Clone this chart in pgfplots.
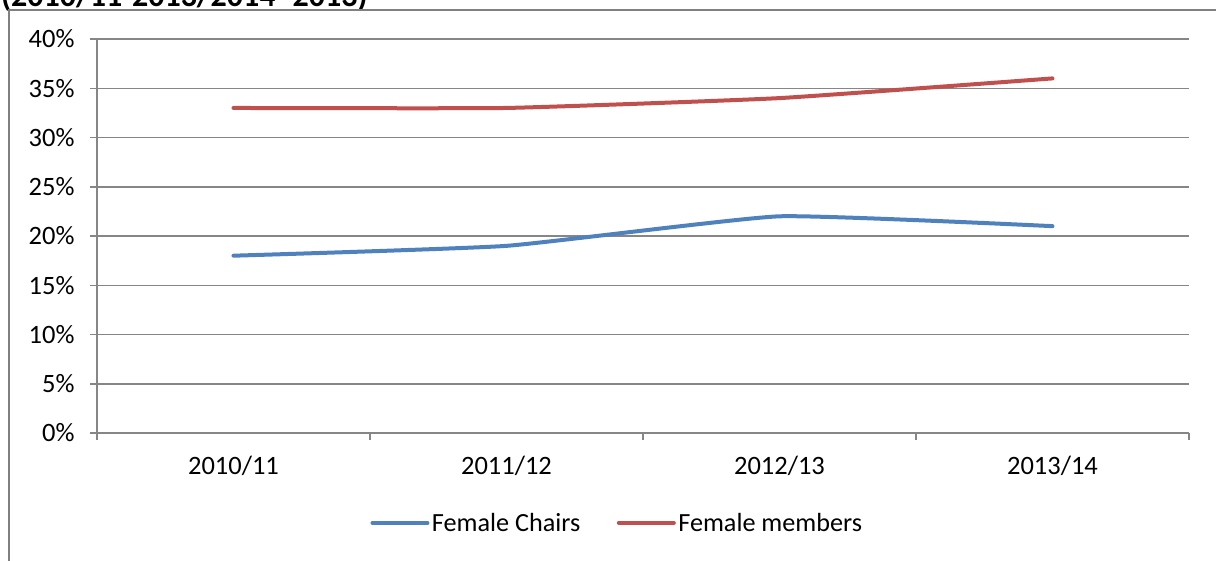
\documentclass[border=0pt]{standalone}
\usepackage{pgfplots}
\pgfplotsset{compat=1.18}
\usepackage{fontspec}
\setmainfont{Carlito}
\definecolor{cblue}{RGB}{79,129,189}
\definecolor{cred}{RGB}{192,80,77}
\definecolor{cgrid}{RGB}{134,134,134}
\definecolor{cframe}{RGB}{128,128,128}
\begin{document}
\begin{tikzpicture}
\path[use as bounding box, clip] (0,0) rectangle (1216pt,-561pt);
\node[anchor=base west, inner sep=0pt, font=\bfseries\fontsize{32}{36}\selectfont] at (1pt,-7pt) {(2010/11-2013/2014- 2013)};
\draw[cframe, line width=2pt] (9pt,-700pt) -- (9pt,-10pt) -- (1300pt,-10pt);
\begin{axis}[
  at={(97pt,-433pt)}, anchor=south west,
  scale only axis, width=1092pt, height=394pt,
  xmin=-0.5, xmax=3.5, ymin=0, ymax=40,
  axis lines=left, axis line style={-, draw=cgrid, line width=1.5pt},
  xtick={-0.5,0.5,1.5,2.5,3.5}, xticklabels={},
  extra x ticks={0,1,2,3},
  extra x tick labels={2010/11,2011/12,2012/13,2013/14},
  extra x tick style={major tick length=0pt, xticklabel style={yshift=-20pt}},
  ytick={0,5,...,40},
  yticklabels={0\%,5\%,10\%,15\%,20\%,25\%,30\%,35\%,40\%},
  yticklabel style={xshift=-12pt},
  tick align=outside, major tick length=7pt,
  tick style={draw=cgrid, line width=1.5pt},
  ymajorgrids, grid style={draw=cgrid, line width=1.5pt},
  ticklabel style={font=\fontsize{26.5}{30}\selectfont, text=black},
  legend style={at={(0.4767,-0.228)}, anchor=center, draw=none, fill=none,
    legend columns=2, font=\fontsize{26.2}{30}\selectfont,
    nodes={inner sep=2.5pt},
    /tikz/every even column/.append style={column sep=34pt}},
  legend image code/.code={\draw[#1] (0pt,0pt) -- (55pt,0pt);},
  legend cell align=left,
]
\addplot[cblue, line width=4pt, line cap=round, smooth, tension=0.25] coordinates {(0,18) (1,19) (2,22) (3,21)};
\addlegendentry{Female Chairs}
\addplot[cred, line width=4pt, line cap=round, smooth, tension=0.25] coordinates {(0,33) (1,33) (2,34) (3,36)};
\addlegendentry{Female members}
\end{axis}
\end{tikzpicture}
\end{document}
